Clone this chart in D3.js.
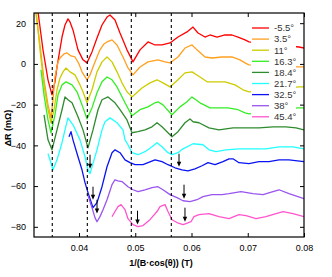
<!DOCTYPE html>
<html><head><meta charset="utf-8">
<script src="https://cdn.jsdelivr.net/npm/d3@7"></script>
<style>body{margin:0;background:#fff}svg{display:block}text{font-family:"Liberation Sans",Arial,sans-serif}</style>
</head><body><div id="chart"></div>
<script>
const labels = ["-5.5°","3.5°","11°","16.3°","18.4°","21.7°","32.5°","38°","45.4°"];
const colors = ["#ff0000","#ffa020","#cccc00","#33ee22","#2e8b2e","#22ffff","#0a14f0","#9955ee","#ff55cc"];

const xRed = [0.0326,0.0336,0.03449,0.0352,0.03573,0.03609,0.03698,0.03751,0.03804,0.0384,0.03893,0.03982,0.04071,0.04142,0.04231,0.0432,0.04409,0.04498,0.04551,0.0464,0.04729,0.04853,0.0496,0.05084,0.05227,0.05351,0.05476,0.05618,0.0576,0.0592,0.06027,0.06116,0.0624,0.06329,0.06453,0.06596,0.0672,0.06827,0.06951,0.07022,0.07911,0.08];
const yRed = [28,6.9,-7.8,-15.2,-8.8,-1.5,13.2,19.1,22.1,20.6,16.7,6.9,2.0,0.5,5.9,12.7,19.1,23.0,24.0,21.6,15.2,6.9,1.0,6.9,10.8,9.3,9.3,10.3,13.2,15.7,18.1,15.2,13.2,14.2,13.2,14.2,14.2,13.2,11.8,10.8,8.3,7.8];

const xOrange = [0.0322,0.03307,0.03378,0.03449,0.03502,0.03538,0.03573,0.03627,0.03662,0.03733,0.03787,0.03858,0.03929,0.0400,0.04053,0.04142,0.04196,0.04249,0.0432,0.04373,0.04444,0.04498,0.04587,0.04676,0.04782,0.04871,0.0496,0.05084,0.05227,0.05404,0.05529,0.05618,0.0576,0.05884,0.06009,0.06098,0.0624,0.06364,0.06542,0.0672,0.06862,0.06951,0.07022,0.07911,0.08];
const yOrange = [28,9.3,-7.8,-20.1,-26.5,-17.6,-6.4,1.0,2.9,4.9,5.4,3.9,3.4,0,-3.9,-7.8,-5.4,-1.5,3.4,6.9,9.8,10.8,11.8,9.3,3.4,-2.0,-5.4,-1.5,1.0,2.0,1.0,0.5,3.4,7.8,9.3,6.9,3.4,2.9,3.4,3.4,2.0,0.5,-0.5,-1.5,-1.5];

const xYellow = [0.0323,0.03307,0.03378,0.03449,0.03502,0.03556,0.03609,0.03662,0.03716,0.03769,0.0384,0.03929,0.04018,0.04071,0.04142,0.04231,0.0432,0.04409,0.04498,0.04587,0.04676,0.04764,0.04853,0.04942,0.0512,0.05262,0.05387,0.05493,0.05618,0.0576,0.05884,0.06009,0.06151,0.06276,0.06418,0.06596,0.06773,0.06916,0.07022,0.07911,0.08];
const yYellow = [28,6.9,-10.3,-22.5,-28.9,-22.5,-12.7,-6.9,-3.9,-2.0,-3.9,-5.4,-10.3,-13.7,-19.1,-12.7,-3.9,1.0,3.4,1.0,-3.9,-9.3,-13.7,-16.2,-11.8,-9.3,-7.8,-9.3,-11.3,-7.8,-4.4,-3.9,-6.4,-8.8,-8.8,-8.8,-10.3,-12.7,-13.7,-11.3,-11.3];

const xLime = [0.03324,0.03378,0.03449,0.03502,0.03573,0.03627,0.03698,0.03769,0.03876,0.03964,0.04053,0.04142,0.04231,0.0432,0.04409,0.04498,0.04587,0.04676,0.04818,0.04942,0.05084,0.05227,0.05351,0.05404,0.05493,0.05618,0.05653,0.05796,0.0592,0.06009,0.06151,0.06329,0.06471,0.06649,0.06827,0.06951,0.07022,0.07893,0.08];
const yLime = [-2.9,-15.2,-27.5,-33.8,-25.0,-15.2,-10.3,-8.8,-10.3,-13.7,-20.1,-27.0,-21.6,-14.2,-8.8,-6.4,-7.8,-11.3,-19.1,-25.5,-22.5,-21.1,-19.1,-18.6,-20.1,-24.0,-25.0,-21.1,-18.6,-16.2,-19.1,-21.6,-21.6,-21.6,-22.5,-24.0,-24.5,-21.6,-21.6];

const xDkGreen = [0.03378,0.03449,0.0352,0.03609,0.03698,0.03751,0.03804,0.03876,0.03982,0.04071,0.0416,0.04249,0.04338,0.04409,0.04516,0.0464,0.04729,0.04853,0.04942,0.05049,0.05173,0.05298,0.05387,0.05476,0.05582,0.05653,0.0576,0.05884,0.05973,0.06027,0.06133,0.06311,0.06489,0.06738,0.06969,0.072,0.07449,0.0768,0.07858,0.08];
const yDkGreen = [-25.0,-37.3,-42.2,-32.4,-22.5,-16.2,-17.6,-19.1,-26.0,-32.4,-41.2,-32.4,-22.5,-17.6,-16.2,-19.1,-22.5,-27.5,-33.8,-33.3,-32.4,-30.9,-28.9,-30.9,-33.8,-35.8,-33.3,-28.9,-27.0,-28.4,-28.9,-31.4,-32.4,-31.4,-31.4,-31.4,-30.9,-30.9,-31.4,-32.4];

const xCyan = [0.03449,0.03484,0.03538,0.03609,0.03698,0.03751,0.03804,0.03893,0.04018,0.04107,0.0416,0.04196,0.0432,0.04409,0.04462,0.04551,0.04676,0.04782,0.04818,0.04871,0.04942,0.05049,0.05173,0.05298,0.05387,0.05476,0.05582,0.05653,0.0576,0.05849,0.06027,0.06204,0.06311,0.06436,0.06613,0.06844,0.07093,0.07324,0.07556,0.07804,0.08];
const yCyan = [-44.1,-47.1,-52.0,-47.1,-38.7,-32.4,-26.5,-29.9,-37.3,-45.6,-52.0,-53.9,-42.2,-32.4,-28.4,-26.5,-28.9,-32.4,-37.3,-39.7,-43.6,-44.6,-43.1,-40.7,-38.7,-40.7,-43.6,-44.6,-43.6,-41.7,-39.2,-39.7,-42.2,-43.1,-42.2,-41.7,-41.7,-41.7,-40.7,-40.7,-41.7];

const xBlue = [0.03822,0.03858,0.03893,0.03982,0.04053,0.04107,0.0416,0.04231,0.04249,0.0432,0.04409,0.04498,0.04587,0.0464,0.04729,0.04818,0.04907,0.04996,0.05138,0.05227,0.05351,0.05476,0.05582,0.05707,0.05831,0.05938,0.06062,0.06187,0.06293,0.06418,0.0656,0.06667,0.06738,0.06844,0.07022,0.072,0.07378,0.07556,0.07733,0.08];
const yBlue = [-35.8,-33.3,-37.3,-45.6,-52.0,-58.3,-63.2,-69.1,-70.6,-68.1,-60.3,-50.5,-43.6,-42.2,-43.6,-47.1,-48.5,-49.5,-49.5,-48.5,-47.1,-48.0,-49.5,-51.0,-52.0,-52.5,-51.5,-50.0,-48.5,-49.5,-48.0,-46.6,-46.6,-48.5,-49.0,-48.0,-48.0,-47.1,-47.1,-48.0];

const xPurple = [0.0416,0.04231,0.04284,0.0432,0.04373,0.04427,0.04498,0.04551,0.04587,0.0464,0.04693,0.04764,0.04871,0.0496,0.05049,0.05173,0.05298,0.05404,0.05493,0.05618,0.05742,0.05849,0.05973,0.06098,0.06204,0.06364,0.06542,0.06667,0.0688,0.07093,0.07271,0.07449,0.07556,0.07733,0.08];
const yPurple = [-64.7,-70.6,-75.5,-77.5,-75.0,-71.6,-66.7,-62.3,-59.3,-56.9,-57.4,-57.8,-60.3,-61.8,-62.7,-61.8,-60.8,-60.3,-61.8,-64.2,-65.7,-67.2,-67.6,-66.7,-65.2,-64.2,-64.2,-63.7,-62.7,-63.7,-64.2,-62.7,-61.8,-63.7,-66.2];

const xPink = [0.04587,0.0464,0.04693,0.04747,0.04818,0.04871,0.0496,0.05049,0.05138,0.05262,0.05387,0.0544,0.05529,0.05582,0.05653,0.05742,0.05849,0.05902,0.05991,0.06044,0.06133,0.06311,0.06489,0.06667,0.06844,0.06969,0.07147,0.07324,0.07502,0.07627,0.07804,0.08];
const yPink = [-75.0,-72.5,-70.1,-69.1,-71.6,-76.0,-78.9,-79.9,-79.4,-76.5,-72.5,-70.1,-69.1,-72.5,-76.5,-77.9,-78.9,-78.4,-77.5,-75.0,-74.0,-73.5,-75.0,-76.0,-74.0,-74.5,-76.0,-75.0,-73.5,-72.5,-73.5,-75.0];

const seriesX = [xRed,xOrange,xYellow,xLime,xDkGreen,xCyan,xBlue,xPurple,xPink];
const seriesY = [yRed,yOrange,yYellow,yLime,yDkGreen,yCyan,yBlue,yPurple,yPink];

const dashedX = [0.03525,0.04148,0.0493,0.05641];
// arrows: x, tail y, tip y
const arrowX = [0.04196,0.04249,0.0432,0.05040,0.05778,0.05867,0.05884];
const arrowTail = [-44.6,-60.3,-66.7,-72.1,-44.1,-59.3,-70.6];
const arrowTip = [-51.5,-66.7,-73.5,-78.9,-50.5,-66.2,-77.5];

const xTicks = [0.04,0.05,0.06,0.07,0.08];
const yTicks = [20,0,-20,-40,-60,-80];

const W = 332, H = 277;
const m = {l:34, r:304, t:13, b:237};
const x = d3.scaleLinear().domain([0.032,0.08]).range([m.l,m.r]);
const y = d3.scaleLinear().domain([-85,25]).range([m.b,m.t]);

const svg = d3.select("#chart").append("svg").attr("width",W).attr("height",H);
svg.append("defs").append("clipPath").attr("id","clip")
  .append("rect").attr("x",m.l).attr("y",m.t).attr("width",m.r-m.l).attr("height",m.b-m.t);

const g = svg.append("g").attr("clip-path","url(#clip)");
const line = d3.line().x(d=>x(d[0])).y(d=>y(d[1]));

seriesX.forEach((xs,i)=>{
  const pts = xs.map((v,j)=>[v,seriesY[i][j]]);
  g.append("path").attr("d",line(pts)).attr("fill","none")
    .attr("stroke",colors[i]).attr("stroke-width",1.3).attr("stroke-linejoin","round");
});

dashedX.forEach(v=>{
  g.append("line").attr("x1",x(v)).attr("x2",x(v)).attr("y1",m.t).attr("y2",m.b)
    .attr("stroke","#000").attr("stroke-width",1.1).attr("stroke-dasharray","3,3");
});

// arrows
arrowX.forEach((v,i)=>{
  const ax = x(v), y0 = y(arrowTail[i]), y1 = y(arrowTip[i]);
  g.append("line").attr("x1",ax).attr("x2",ax).attr("y1",y0).attr("y2",y1-4)
    .attr("stroke","#000").attr("stroke-width",1);
  g.append("path").attr("d",`M${ax-2.2},${y1-5}L${ax+2.2},${y1-5}L${ax},${y1}Z`).attr("fill","#000");
});

// legend
const lg = svg.append("g");
lg.append("rect").attr("x",251).attr("y",21).attr("width",45).attr("height",101).attr("fill","#fff");
labels.forEach((t,i)=>{
  const ly = 28 + i*11.1;
  lg.append("line").attr("x1",252).attr("x2",269).attr("y1",ly).attr("y2",ly)
    .attr("stroke",colors[i]).attr("stroke-width",1.3);
  lg.append("text").attr("x",274).attr("y",ly+3.3).attr("font-size",9.5).attr("fill","#333").text(t);
});

// axes (inward ticks)
const fmtX = d3.format(".2f");
svg.append("g").attr("transform",`translate(0,${m.b})`)
  .call(d3.axisBottom(x).tickValues(xTicks).tickSize(-4).tickPadding(8).tickFormat(fmtX))
  .call(a=>{a.select(".domain").remove(); a.selectAll("text").attr("font-size",9).attr("fill","#000");});
svg.append("g").attr("transform",`translate(0,${m.t})`)
  .call(d3.axisTop(x).tickValues(xTicks).tickSize(-4).tickFormat(""))
  .call(a=>a.select(".domain").remove());
svg.append("g").attr("transform",`translate(${m.l},0)`)
  .call(d3.axisLeft(y).tickValues(yTicks).tickSize(-4).tickPadding(8).tickFormat(d3.format("d")))
  .call(a=>{a.select(".domain").remove(); a.selectAll("text").attr("font-size",9).attr("fill","#000");});
svg.append("g").attr("transform",`translate(${m.r},0)`)
  .call(d3.axisRight(y).tickValues(yTicks).tickSize(-4).tickFormat(""))
  .call(a=>a.select(".domain").remove());

svg.append("rect").attr("x",m.l).attr("y",m.t).attr("width",m.r-m.l).attr("height",m.b-m.t)
  .attr("fill","none").attr("stroke","#000").attr("stroke-width",1.2);

svg.append("text").attr("x",161).attr("y",266).attr("text-anchor","middle")
  .attr("font-size",9).attr("font-weight","bold").text("1/(B·cos(θ)) (T)");
svg.append("text").attr("transform","translate(11,128) rotate(-90)").attr("text-anchor","middle")
  .attr("font-size",9).attr("font-weight","bold").text("ΔR (mΩ)");
</script></body></html>
